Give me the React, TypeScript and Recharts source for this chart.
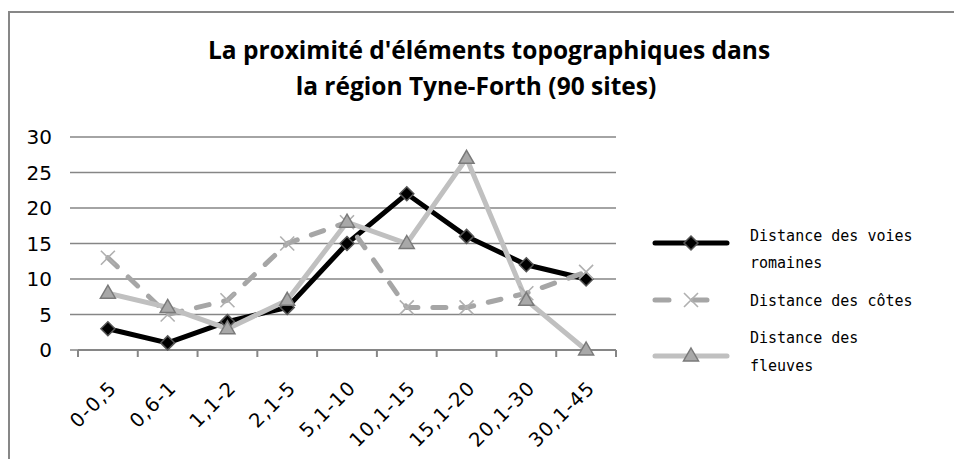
import React from 'react'
import {
  LineChart,
  Line,
  XAxis,
  YAxis,
  CartesianGrid
} from 'recharts'

const CATEGORIES = ['0-0,5', '0,6-1', '1,1-2', '2,1-5', '5,1-10', '10,1-15', '15,1-20', '20,1-30', '30,1-45']
const VOIES_ROMAINES = [3, 1, 4, 6, 15, 22, 16, 12, 10]
const COTES = [13, 5, 7, 15, 18, 6, 6, 8, 11]
const FLEUVES = [8, 6, 3, 7, 18, 15, 27, 7, 0]
const Y_TICKS = [0, 5, 10, 15, 20, 25, 30]

const SERIES = [
  { key: 'voies', name: 'Distance des voies romaines', lines: ['Distance des voies', 'romaines'] },
  { key: 'cotes', name: 'Distance des côtes', lines: ['Distance des côtes'] },
  { key: 'fleuves', name: 'Distance des fleuves', lines: ['Distance des', 'fleuves'] }
]

const data = CATEGORIES.map((name, i) => ({
  name,
  voies: VOIES_ROMAINES[i],
  cotes: COTES[i],
  fleuves: FLEUVES[i]
}))

const W = 954
const H = 459
const PLOT_LEFT = 78
const PLOT_RIGHT = 616
const GRID = '#868686'
const BAND = (PLOT_RIGHT - PLOT_LEFT) / CATEGORIES.length
const TITLE_FONT = '"Open Sans", sans-serif'
const TICK_FONT = '"DejaVu Sans", sans-serif'

// marqueurs
const diamond = (cx: number, cy: number, key: string) => (
  <path key={key} d={`M${cx},${cy - 7}L${cx + 7},${cy}L${cx},${cy + 7}L${cx - 7},${cy}Z`}
    fill="#000" stroke="#555" strokeWidth={1.5} />
)
const cross = (cx: number, cy: number, key: string) => (
  <path key={key} d={`M${cx - 7},${cy - 7}L${cx + 7},${cy + 7}M${cx + 7},${cy - 7}L${cx - 7},${cy + 7}`}
    stroke="#b0b0b0" strokeWidth={1.6} fill="none" />
)
const triangle = (cx: number, cy: number, key: string) => (
  <path key={key} d={`M${cx},${cy - 8}L${cx + 7.5},${cy + 5}L${cx - 7.5},${cy + 5}Z`}
    fill="#a8a8a8" stroke="#7a7a7a" strokeWidth={1.5} />
)

const MARKERS: Record<string, (cx: number, cy: number, key: string) => React.ReactElement> = {
  voies: diamond,
  cotes: cross,
  fleuves: triangle
}

const XTick = (props: any) => {
  const { x, y, payload, index } = props
  const left = x - BAND / 2
  const ax = x + 10
  const ay = y + 39
  return (
    <g>
      <line x1={left} y1={y} x2={left} y2={y + 7} stroke={GRID} strokeWidth={2} />
      {index === CATEGORIES.length - 1 && (
        <line x1={x + BAND / 2} y1={y} x2={x + BAND / 2} y2={y + 7} stroke={GRID} strokeWidth={2} />
      )}
      <text
        x={ax}
        y={ay}
        textAnchor="end"
        transform={`rotate(-45 ${ax} ${ay})`}
        fontFamily={TICK_FONT}
        fontSize={19.5}
        letterSpacing={1.2}
        fill="#000"
      >
        {payload.value}
      </text>
    </g>
  )
}

const LegendBox = () => {
  const rows = [
    { y: 28, text: [25.5, 52.5] },
    { y: 85, text: [90.5] },
    { y: 141, text: [127.5, 155.5] }
  ]
  return (
    <svg width={300} height={170}>
      {SERIES.map((s, i) => {
        const r = rows[i]
        return (
          <g key={s.key}>
            <line
              x1={15} y1={r.y} x2={87} y2={r.y}
              stroke={s.key === 'voies' ? '#000' : s.key === 'cotes' ? '#a6a6a6' : '#c0c0c0'}
              strokeWidth={5}
              strokeLinecap="round"
              strokeDasharray={s.key === 'cotes' ? '14 24' : undefined}
            />
            {MARKERS[s.key](51, r.y, 'm')}
            {s.lines.map((t, j) => (
              <text key={j} x={110} y={r.text[j]} fontFamily='"DejaVu Sans Mono", monospace' fontSize={15} fill="#000">
                {t}
              </text>
            ))}
          </g>
        )
      })}
    </svg>
  )
}

export default function App() {
  return (
    <div style={{ position: 'fixed', left: 0, top: 0, width: W, height: H, overflow: 'hidden', background: '#fff' }}>
      <div style={{
        position: 'absolute', left: 8, top: 11, width: W + 20, height: H + 20,
        borderTop: '2px solid #878787', borderLeft: '2px solid #878787'
      }} />
      <svg width={W} height={110} style={{ position: 'absolute', left: 0, top: 0 }}>
        <text x={489} y={59} textAnchor="middle" fontFamily={TITLE_FONT} fontWeight="bold" fontSize={24.5}>
          La proximité d'éléments topographiques dans
        </text>
        <text x={476} y={95} textAnchor="middle" fontFamily={TITLE_FONT} fontWeight="bold" fontSize={24.5}>
          la région Tyne-Forth (90 sites)
        </text>
      </svg>
      <div style={{ position: 'absolute', left: 0, top: 0 }}>
        <LineChart width={W} height={H} data={data} margin={{ top: 137, right: W - PLOT_RIGHT, bottom: 9, left: 0 }}>
          <CartesianGrid vertical={false} stroke={GRID} strokeWidth={1.5} />
          <XAxis
            dataKey="name"
            scale="band"
            height={100}
            axisLine={{ stroke: GRID, strokeWidth: 2 }}
            tickLine={false}
            tickSize={0}
            tickMargin={0}
            interval={0}
            tick={<XTick />}
          />
          <YAxis
            width={PLOT_LEFT}
            domain={[0, 30]}
            ticks={Y_TICKS}
            axisLine={false}
            tickLine={{ stroke: GRID, strokeWidth: 1.5 }}
            tickSize={8}
            tickMargin={18}
            tick={{ fontFamily: TICK_FONT, fontSize: 20, fill: '#000' }}
          />
          <Line
            dataKey="voies"
            name={SERIES[0].name}
            stroke="#000"
            strokeWidth={5}
            dot={(p: any) => diamond(p.cx, p.cy, `v${p.index}`)}
            isAnimationActive={false}
          />
          <Line
            dataKey="cotes"
            name={SERIES[1].name}
            stroke="#a6a6a6"
            strokeWidth={5}
            strokeDasharray="13 15"
            strokeLinecap="round"
            dot={(p: any) => cross(p.cx, p.cy, `c${p.index}`)}
            isAnimationActive={false}
          />
          <Line
            dataKey="fleuves"
            name={SERIES[2].name}
            stroke="#c0c0c0"
            strokeWidth={5}
            dot={(p: any) => triangle(p.cx, p.cy, `f${p.index}`)}
            isAnimationActive={false}
          />
        </LineChart>
      </div>
      <div style={{ position: 'absolute', left: 640, top: 215 }}>
        <LegendBox />
      </div>
    </div>
  )
}
